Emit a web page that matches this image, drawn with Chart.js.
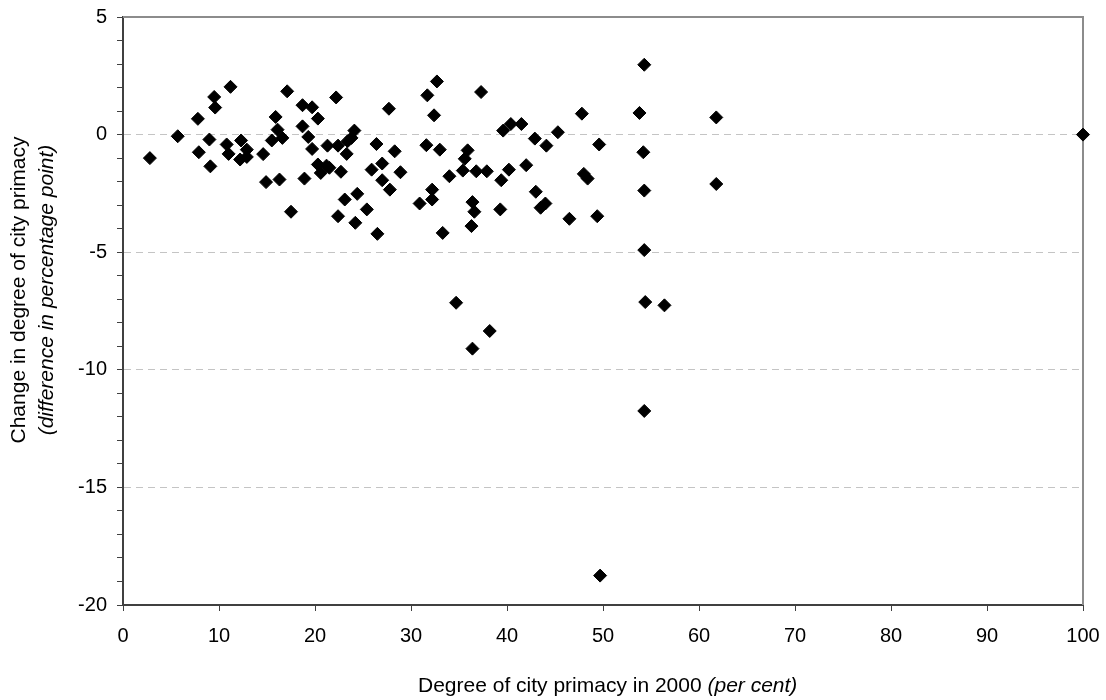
<!DOCTYPE html>
<html>
<head>
<meta charset="utf-8">
<script src="https://cdn.jsdelivr.net/npm/chart.js@4.4.1/dist/chart.umd.min.js"></script>
<style>
  html, body { margin: 0; padding: 0; background: #fff; }
  #wrap { position: relative; width: 1106px; height: 700px; overflow: hidden; }
  canvas { position: absolute; left: 0; top: 0; }
  .ttl { position: absolute; font-family: "Liberation Sans", Arial, sans-serif; font-size: 21px; color: #000; white-space: nowrap; }
  #ytitle { width: 400px; height: 56px; line-height: 28px; text-align: center; left: -168px; top: 262px; transform: rotate(-90deg); transform-origin: 200px 28px; }
  #xtitle { left: 418px; top: 673px; line-height: 24px; }
</style>
</head>
<body>
<div id="wrap">
  <canvas id="c" width="1106" height="700"></canvas>
  <div id="ytitle" class="ttl">Change in degree of city primacy<br><i>(difference in percentage point)</i></div>
  <div id="xtitle" class="ttl">Degree of city primacy in 2000 <i>(per cent)</i></div>
</div>
<script>
// Degree of city primacy in 2000 (per cent)
const primacy2000 = [
  2.8, 5.7, 7.8, 7.9, 9.0, 9.1, 9.5, 9.6, 11.2, 10.8,
  11.0, 12.3, 12.9, 12.9, 12.2, 14.6, 14.9, 15.5, 15.9, 16.1,
  16.6, 16.3, 17.1, 17.5, 18.7, 18.7, 19.3, 18.9, 19.7, 20.3,
  19.7, 22.2, 24.1, 23.8, 23.4, 21.3, 22.4, 23.3, 20.3, 20.6,
  21.2, 21.5, 22.7, 23.1, 24.4, 22.4, 24.2, 25.4, 26.5, 26.4,
  28.3, 27.0, 25.9, 28.9, 27.0, 27.8, 27.7, 31.7, 32.7, 32.4,
  31.6, 33.0, 30.9, 32.2, 32.2, 33.3, 35.9, 35.6, 35.4, 34.0,
  36.8, 37.9, 36.4, 36.6, 36.3, 37.3, 39.3, 39.4, 40.2, 39.6,
  40.4, 41.5, 42.0, 42.9, 44.1, 45.3, 43.0, 43.5, 44.0, 46.5,
  47.8, 48.0, 48.4, 49.6, 49.4, 53.8, 54.3, 54.2, 54.3, 54.3,
  54.4, 56.4, 54.3, 34.7, 38.2, 36.4, 61.8, 61.8, 49.7, 100
];
// Change in degree of city primacy (difference in percentage point)
const primacyChange = [
  -1.0, -0.07, 0.67, -0.75, -0.21, -1.35, 1.6, 1.15, 2.03, -0.42,
  -0.82, -0.25, -0.64, -0.95, -1.06, -0.83, -2.02, -0.25, 0.75, 0.21,
  -0.14, -1.91, 1.84, -3.28, 1.25, 0.35, -0.1, -1.87, 1.16, 0.68,
  -0.61, 1.58, 0.17, -0.14, -0.28, -0.47, -0.47, -0.82, -1.27, -1.63,
  -1.32, -1.41, -1.58, -2.76, -2.52, -3.47, -3.75, -3.18, -4.22, -0.40,
  -0.71, -1.23, -1.49, -1.6, -1.94, -2.34, 1.1, 1.67, 2.26, 0.82,
  -0.45, -0.64, -2.93, -2.34, -2.76, -4.18, -0.67, -1.03, -1.53, -1.77,
  -1.56, -1.56, -2.87, -3.28, -3.89, 1.81, -3.18, -1.94, -1.49, 0.17,
  0.45, 0.45, -1.3, -0.17, -0.47, 0.1, -2.43, -3.11, -2.93, -3.58,
  0.89, -1.67, -1.87, -0.42, -3.47, 0.92, 2.97, -0.75, -2.38, -4.91,
  -7.12, -7.26, -11.75, -7.15, -8.35, -9.1, 0.73, -2.1, -18.75, 0
];
const xTicks = [0, 10, 20, 30, 40, 50, 60, 70, 80, 90, 100];
const yTicks = [5, 0, -5, -10, -15, -20];

const points = primacy2000.map((x, i) => ({ x: x, y: primacyChange[i] }));

const frame = {
  id: 'frame',
  beforeDatasetsDraw(chart) {
    const a = chart.chartArea, ctx = chart.ctx;
    ctx.save();
    ctx.strokeStyle = '#8c8c8c';
    ctx.lineWidth = 2;
    ctx.beginPath();
    ctx.moveTo(a.left, a.top);
    ctx.lineTo(a.right, a.top);
    ctx.lineTo(a.right, a.bottom);
    ctx.stroke();
    ctx.restore();
  }
};

const tickFont = { family: '"Liberation Sans", Arial, sans-serif', size: 20 };

new Chart(document.getElementById('c'), {
  type: 'scatter',
  data: {
    datasets: [{
      data: points,
      pointStyle: 'rectRot',
      pointRadius: 6.5,
      pointHoverRadius: 6.5,
      backgroundColor: '#000',
      borderColor: '#000',
      borderWidth: 1,
      clip: false
    }]
  },
  options: {
    responsive: false,
    animation: false,
    events: [],
    layout: { padding: { left: 0, right: 23, top: 17, bottom: 0 } },
    plugins: { legend: { display: false }, tooltip: { enabled: false } },
    scales: {
      x: {
        type: 'linear',
        min: 0, max: 100,
        afterFit(s) { s.height = 95; s.paddingLeft = 0; s.paddingRight = 0; },
        afterBuildTicks(s) { s.ticks = xTicks.map(v => ({ value: v })); },
        ticks: { font: tickFont, color: '#000', padding: 13, autoSkip: false, maxRotation: 0 },
        grid: { drawOnChartArea: false, tickLength: 6, tickColor: '#404040', tickWidth: 1 },
        border: { color: '#404040', width: 2 }
      },
      y: {
        type: 'linear',
        min: -20, max: 5,
        afterFit(s) { s.width = 123; s.paddingTop = 0; s.paddingBottom = 0; },
        ticks: {
          stepSize: 1,
          autoSkip: false,
          font: tickFont,
          color: '#000',
          padding: 10,
          callback: v => (yTicks.includes(v) ? String(v) : '')
        },
        grid: {
          tickLength: 6,
          tickWidth: 1,
          tickColor: '#404040',
          lineWidth: 1,
          color: c => (c.tick && c.tick.value % 5 === 0 && c.tick.value > -20 && c.tick.value < 5) ? '#c4c4c4' : 'rgba(0,0,0,0)'
        },
        border: { color: '#404040', width: 2, dash: [7, 5] }
      }
    }
  },
  plugins: [frame]
});
</script>
</body>
</html>
